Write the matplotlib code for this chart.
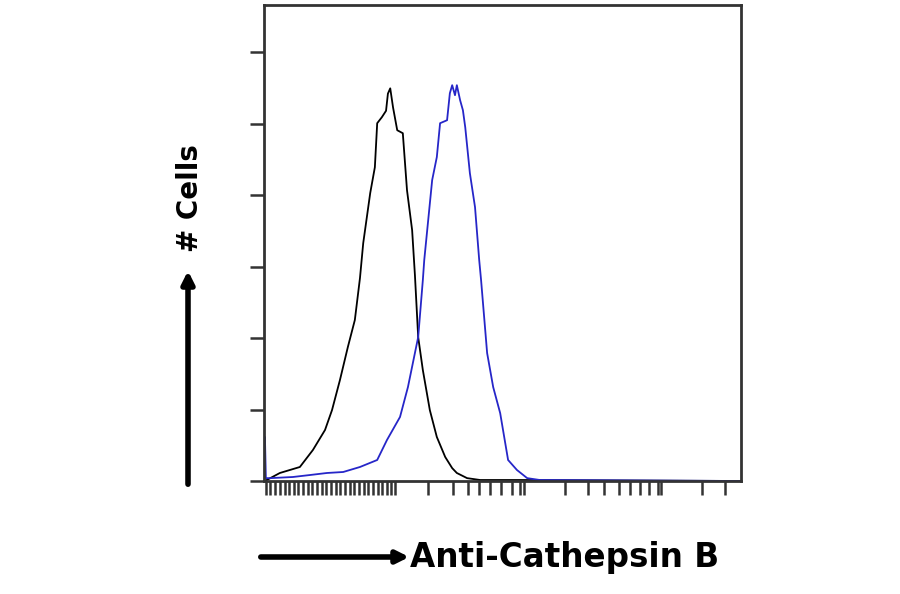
import numpy as np
import matplotlib.pyplot as plt
from matplotlib.patches import FancyArrowPatch

# isotype control (black) - channel vs count
ctrl_x = [0, 6, 34, 77, 105, 131, 146, 163, 180, 195, 206, 213, 228, 238, 243, 253, 262,
          266, 271, 277, 286, 298, 307, 318, 324, 331, 341, 356, 371, 389, 404, 414, 436,
          464, 550, 1023]
ctrl_y = [0, 0.7, 5.6, 9.8, 21.7, 35.7, 49.6, 70.6, 93.7, 112.6, 141.9, 166.4, 201.4,
          219.5, 250.3, 254.5, 259, 271, 274.7, 261.4, 245.4, 243.3, 203.4, 175.5, 144,
          100.7, 77.6, 49.6, 30.8, 16.8, 9, 5.6, 2, 0.7, 0.7, 0]

# Anti-Cathepsin B (blue)
ab_x = [0, 2, 4, 13, 62, 99, 135, 170, 206, 243, 264, 292, 309, 331, 341, 344, 361, 371,
        378, 393, 399, 404, 410, 414, 421, 427, 432, 442, 453, 462, 466, 479, 492, 507,
        524, 543, 565, 592, 1023]
ab_y = [0, 30.8, 2, 2, 2.8, 4.2, 5.6, 6.3, 9.8, 14.7, 28.7, 44.8, 65.7, 100.7, 140.6,
        154.5, 210.5, 226.6, 250.3, 252.4, 271.3, 276.9, 269.9, 276.9, 266.4, 259.4,
        247.5, 215.3, 191.6, 154.5, 140.6, 89.5, 65.7, 47.5, 14.7, 7.7, 2, 0.7, 0]

x_ticks = [4, 13, 24, 34, 45, 54, 64, 73, 84, 94, 103, 114, 125, 133, 144, 155, 163, 174,
           185, 193, 204, 215, 223, 234, 245, 253, 264, 273, 281,
           352, 406, 438, 462, 485, 509, 533, 550, 558,
           646, 696, 730, 762, 786, 807, 827, 846, 853, 940, 990]
y_ticks = [0, 50, 100, 150, 200, 250, 300]

plt.rcParams['font.family'] = ['DejaVu Sans']

fig = plt.figure(figsize=(9, 5.94), dpi=100)
ax = fig.add_axes([264 / 900, 113 / 594, 477 / 900, 476 / 594])

ax.plot(ctrl_x, ctrl_y, color='black', lw=1.3)
ax.plot(ab_x, ab_y, color='#2626c8', lw=1.3)

ax.set_xlim(0, 1024)
ax.set_ylim(0, 333)
ax.set_xticks(x_ticks)
ax.set_yticks(y_ticks)
ax.set_xticklabels([])
ax.set_yticklabels([])
ax.tick_params(direction='out', length=10, width=1.8, color='#333333')
for s in ax.spines.values():
    s.set_linewidth(2)
    s.set_color('#333333')

# axis labels with arrows
fig.patches.append(FancyArrowPatch((188 / 900, 1 - 487 / 594), (188 / 900, 1 - 268 / 594),
                                   transform=fig.transFigure, arrowstyle='-|>',
                                   mutation_scale=18, lw=4, color='black'))
fig.text(190 / 900, 1 - 198 / 594, '# Cells', rotation=90, fontsize=20,
         fontweight='bold', ha='center', va='center')

fig.patches.append(FancyArrowPatch((258 / 900, 1 - 557 / 594), (412 / 900, 1 - 557 / 594),
                                   transform=fig.transFigure, arrowstyle='-|>',
                                   mutation_scale=18, lw=4, color='black'))
fig.text(410 / 900, 1 - 557 / 594, 'Anti-Cathepsin B', fontsize=23.5,
         fontweight='bold', ha='left', va='center')

fig.savefig('out.png', dpi=100)
